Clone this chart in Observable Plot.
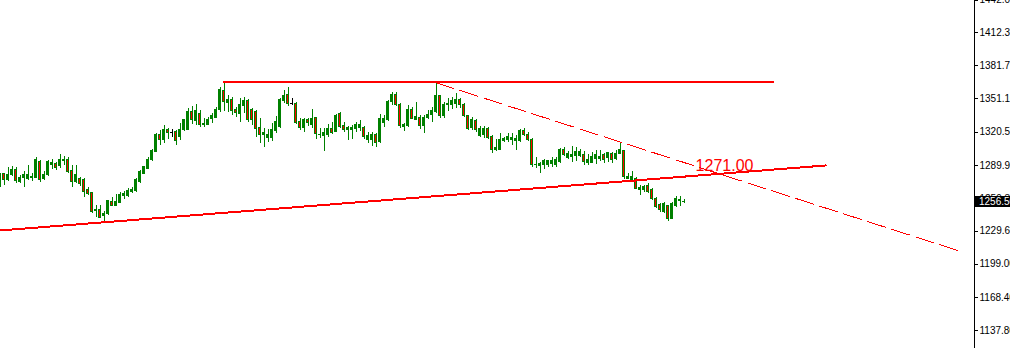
<!DOCTYPE html>
<html>
<head>
<meta charset="utf-8">
<script src="https://cdn.jsdelivr.net/npm/d3@7"></script>
<script src="https://cdn.jsdelivr.net/npm/@observablehq/plot@0.6"></script>
<style>
  body { margin: 0; background: #ffffff; }
  #chart svg { display: block; }
</style>
</head>
<body>
<div id="chart"></div>
<script>
// Daily OHLC bars, oldest first
const open = [1273.3,1282.3,1276.1,1281.6,1286.2,1274.9,1278.2,1277.7,1278.2,1278.6,1293.3,1277.0,1280.7,1290.2,1291.7,1289.0,1293.6,1294.5,1284.4,1274.5,
  1277.0,1276.1,1267.5,1264.4,1247.9,1248.5,1243.0,1244.8,1256.1,1252.2,1255.2,1261.6,1261.4,1265.3,1266.0,1274.3,1282.5,1287.1,1295.0,1302.1,
  1318.4,1313.5,1322.7,1319.6,1320.5,1315.9,1322.1,1323.0,1338.7,1330.4,1337.7,1327.3,1327.3,1332.9,1333.8,1341.1,1358.0,1347.2,1350.6,1341.4,
  1337.5,1344.2,1349.1,1340.5,1338.9,1324.6,1318.4,1315.4,1315.4,1321.5,1325.1,1349.1,1354.3,1346.3,1346.7,1329.7,1324.6,1332.2,1327.3,1333.4,
  1317.5,1316.9,1317.5,1323.7,1320.5,1337.5,1326.1,1322.1,1322.7,1323.7,1324.2,1324.2,1313.8,1312.9,1317.5,1311.3,1329.2,1331.3,1348.1,1354.3,
  1345.1,1325.1,1325.8,1341.1,1331.9,1333.8,1325.8,1333.8,1335.9,1338.9,1353.4,1335.0,1345.1,1345.1,1346.7,1349.7,1346.0,1335.0,1324.6,1330.7,
  1316.6,1317.5,1323.7,1315.9,1304.3,1304.3,1312.3,1313.8,1312.9,1312.3,1312.3,1321.5,1318.4,1313.5,1289.9,1289.0,1289.9,1289.9,1291.5,1290.8,
  1292.9,1304.3,1297.0,1297.5,1298.2,1298.2,1299.1,1292.0,1292.0,1296.1,1296.1,1299.1,1297.0,1300.7,1296.1,1300.6,1302.8,1277.7,1276.1,1277.7,
  1267.5,1266.9,1270.6,1266.9,1259.3,1253.1,1246.9,1252.2,1240.9,1252.2,1257.1,1255.9];
const high = [1282.5,1282.8,1287.8,1289.0,1287.8,1280.7,1284.7,1289.9,1282.3,1297.5,1294.5,1284.7,1294.5,1295.1,1293.1,1300.0,1298.2,1297.5,1289.9,1289.9,
  1279.1,1277.7,1269.9,1265.3,1253.1,1253.1,1248.0,1257.7,1260.2,1263.2,1265.3,1266.2,1268.5,1269.9,1277.7,1284.9,1289.4,1297.3,1304.6,1319.3,
  1322.1,1326.7,1323.7,1322.7,1322.1,1328.8,1332.2,1342.3,1344.2,1346.0,1340.5,1332.9,1334.3,1337.5,1343.0,1361.9,1366.5,1354.3,1352.2,1343.3,
  1351.3,1352.8,1350.3,1342.1,1340.5,1332.9,1323.7,1322.7,1328.3,1335.0,1351.3,1358.9,1361.9,1351.3,1348.1,1332.9,1332.9,1332.9,1341.4,1334.1,
  1323.7,1323.7,1327.3,1329.2,1336.5,1338.9,1329.2,1326.1,1326.7,1329.7,1331.3,1326.1,1320.5,1320.5,1319.0,1336.5,1335.9,1349.7,1356.8,1357.3,
  1346.7,1328.8,1344.8,1343.3,1348.1,1335.9,1335.9,1340.5,1343.3,1366.0,1354.3,1348.1,1351.3,1352.8,1355.9,1351.3,1346.7,1335.9,1333.8,1332.0,
  1325.8,1325.8,1325.1,1317.5,1313.5,1319.0,1315.9,1319.6,1319.0,1317.5,1322.7,1323.7,1320.5,1314.5,1297.0,1293.0,1295.1,1294.5,1297.0,1297.0,
  1305.3,1306.2,1303.1,1307.4,1306.2,1304.3,1303.1,1300.0,1302.1,1303.7,1303.7,1300.7,1302.1,1302.1,1303.7,1311.1,1303.7,1282.3,1284.7,1279.1,
  1271.5,1271.5,1273.1,1268.5,1260.7,1254.7,1256.1,1253.1,1256.1,1261.4,1261.4,1258.4];
const low = [1269.7,1271.5,1275.5,1279.8,1273.1,1273.1,1270.0,1276.1,1275.5,1277.7,1274.5,1276.1,1279.8,1286.2,1285.3,1286.9,1289.9,1282.8,1270.0,1273.1,
  1270.6,1260.7,1262.3,1246.0,1242.3,1240.9,1238.4,1243.9,1251.7,1251.7,1254.7,1258.3,1260.7,1263.9,1265.1,1273.3,1281.6,1286.2,1294.0,1301.4,
  1308.3,1309.9,1313.5,1315.4,1308.3,1312.9,1321.2,1322.1,1327.6,1326.7,1324.9,1325.1,1326.7,1328.3,1332.9,1338.9,1339.9,1339.1,1335.9,1334.3,
  1329.1,1337.5,1329.7,1326.7,1315.9,1309.9,1306.7,1311.3,1312.3,1319.6,1323.7,1347.2,1344.2,1345.1,1327.6,1322.1,1320.5,1325.8,1323.7,1313.8,
  1314.5,1303.1,1315.9,1318.1,1320.0,1324.2,1320.0,1312.9,1313.8,1320.0,1321.2,1313.8,1309.9,1307.7,1306.7,1309.9,1325.1,1330.4,1345.1,1344.5,
  1323.7,1321.5,1325.1,1331.9,1331.3,1322.7,1319.6,1331.9,1329.7,1338.0,1332.9,1332.9,1339.9,1341.1,1342.1,1342.1,1333.8,1322.1,1322.1,1320.5,
  1315.4,1314.5,1313.5,1301.2,1303.1,1303.7,1311.3,1311.3,1308.3,1303.7,1311.3,1316.6,1312.3,1288.4,1286.9,1282.3,1285.9,1287.8,1288.4,1287.8,
  1291.5,1298.2,1295.1,1293.0,1293.9,1297.0,1289.9,1289.9,1291.5,1290.8,1293.9,1292.0,1293.0,1292.0,1294.5,1299.7,1277.0,1276.7,1274.5,1267.5,
  1262.3,1265.3,1263.9,1257.7,1250.1,1246.9,1245.5,1238.7,1240.0,1251.0,1252.2,1255.0];
const close = [1282.5,1276.1,1281.6,1286.2,1275.2,1278.6,1280.7,1280.7,1278.9,1294.5,1276.7,1280.7,1292.7,1292.4,1287.8,1294.5,1295.1,1283.7,1274.5,1280.7,
  1273.1,1265.3,1263.9,1246.9,1249.1,1241.4,1245.3,1256.8,1252.2,1256.1,1262.3,1263.2,1266.2,1267.4,1276.6,1283.5,1288.1,1295.1,1303.1,1318.4,
  1313.5,1322.7,1319.6,1319.6,1312.3,1322.7,1331.3,1338.7,1331.3,1339.6,1327.6,1328.3,1331.9,1335.3,1341.1,1358.9,1348.1,1350.6,1339.9,1338.0,
  1345.1,1349.1,1331.9,1331.9,1323.7,1318.4,1319.6,1318.4,1322.7,1329.7,1350.3,1353.4,1346.7,1346.3,1328.8,1324.6,1331.9,1329.2,1332.9,1319.0,
  1318.4,1319.6,1323.7,1320.0,1335.3,1325.1,1322.1,1324.2,1324.2,1326.7,1326.7,1315.9,1316.9,1317.5,1310.8,1332.9,1332.9,1348.1,1354.3,1345.1,
  1325.8,1326.7,1341.1,1332.9,1334.3,1325.8,1333.8,1336.8,1339.9,1353.4,1335.0,1346.0,1346.7,1349.1,1350.3,1345.1,1335.0,1323.7,1331.3,1322.7,
  1323.7,1323.7,1315.4,1303.7,1305.8,1312.9,1314.5,1315.9,1315.4,1314.5,1321.5,1318.4,1312.9,1290.8,1290.8,1291.5,1293.9,1293.9,1293.9,1295.1,
  1304.3,1300.0,1300.7,1299.1,1302.1,1302.1,1292.9,1295.1,1297.5,1300.0,1297.5,1295.1,1301.2,1294.5,1300.7,1303.7,1279.3,1278.9,1279.1,1268.5,
  1269.4,1269.9,1265.3,1259.3,1251.5,1248.5,1254.0,1240.9,1254.0,1259.3,1258.3,1256.5];

// Price scale labels on the right-hand axis
const axisTicks = [1442.00, 1412.30, 1381.70, 1351.10, 1320.50, 1289.90, 1259.30, 1229.60, 1199.00, 1168.40, 1137.80];

// Trend lines, anchored by bar number and price
const resistance = [{bar: 56, price: 1366.5}, {bar: 193.2, price: 1366.5}];
const support = [{bar: 0, price: 1230.1}, {bar: 206.4, price: 1289.9}];
const channel = [{bar: 109, price: 1366.0}, {bar: 239.4, price: 1211.7}];
const annotation = [{bar: 173.9, price: 1284.7, label: "1271.00"}];

const GREEN = "#008000";
const RED = "#ff0000";

const bars = open.map((o, i) => ({i, open: o, high: high[i], low: low[i], close: close[i]}));
const lastClose = close[close.length - 1];
const candleColor = d => d.open === d.close ? "#000000" : GREEN;

const xDomain = [0.125, 243.375];

const chart = Plot.plot({
  width: 1010,
  height: 348,
  marginLeft: 0,
  marginRight: 37,
  marginTop: 0,
  marginBottom: 0,
  x: {domain: xDomain, axis: null},
  y: {domain: [1121.5, 1441.7], axis: null},
  color: {type: "identity"},
  style: {background: "#ffffff", fontFamily: "'Liberation Sans', Arial, sans-serif", fontSize: "10px", overflow: "visible"},
  marks: [
    // wicks
    Plot.ruleX(bars, {x: "i", y1: "low", y2: "high", stroke: candleColor, strokeWidth: 1, shapeRendering: "crispEdges"}),
    // bodies
    Plot.rect(bars, {x1: d => d.i - 0.375, x2: d => d.i + 0.375, y1: "open", y2: "close", fill: candleColor,
      insetTop: -0.5, insetBottom: -0.5, shapeRendering: "crispEdges"}),
    // red core of falling bars
    Plot.rect(bars.filter(d => d.close < d.open), {x1: d => d.i - 0.125, x2: d => d.i + 0.125, y1: "open", y2: "close",
      fill: RED, insetTop: 0.5, insetBottom: 0.5, shapeRendering: "crispEdges"}),
    // trend lines
    Plot.line(support, {x: "bar", y: "price", stroke: RED, strokeWidth: 2, shapeRendering: "crispEdges"}),
    Plot.line(resistance, {x: "bar", y: "price", stroke: RED, strokeWidth: 2, shapeRendering: "crispEdges"}),
    Plot.line(channel, {x: "bar", y: "price", stroke: RED, strokeWidth: 1, strokeDasharray: "18.4,6.8", shapeRendering: "crispEdges"}),
    Plot.text(annotation, {x: "bar", y: "price", text: "label", fill: RED, fontSize: 16,
      fontFamily: "'Liberation Sans', Arial, sans-serif", textAnchor: "start", lineAnchor: "bottom"}),
    // price axis
    Plot.axisY(axisTicks, {anchor: "right", tickSize: 4, tickPadding: 2, tickFormat: d => d.toFixed(2),
      stroke: "#000", fill: "#000", fontSize: 10, shapeRendering: "crispEdges"}),
    Plot.ruleX([xDomain[1]], {stroke: "#000", strokeWidth: 1, dx: 0.5, shapeRendering: "crispEdges"})
  ]
});

document.getElementById("chart").append(chart);

// last-price marker on the axis
const yLast = chart.scale("y").apply(lastClose);
const marker = d3.select(chart).append("g");
marker.append("rect")
  .attr("x", 975).attr("y", Math.round(yLast) - 5).attr("width", 40).attr("height", 11)
  .attr("fill", "#000").attr("shape-rendering", "crispEdges");
marker.append("text")
  .attr("x", 979).attr("y", Math.round(yLast) + 0.5)
  .attr("text-anchor", "start")
  .attr("dominant-baseline", "central")
  .attr("fill", "#fff").attr("font-size", 10)
  .attr("font-family", "'Liberation Sans', Arial, sans-serif")
  .text(lastClose.toFixed(2));
</script>
</body>
</html>
